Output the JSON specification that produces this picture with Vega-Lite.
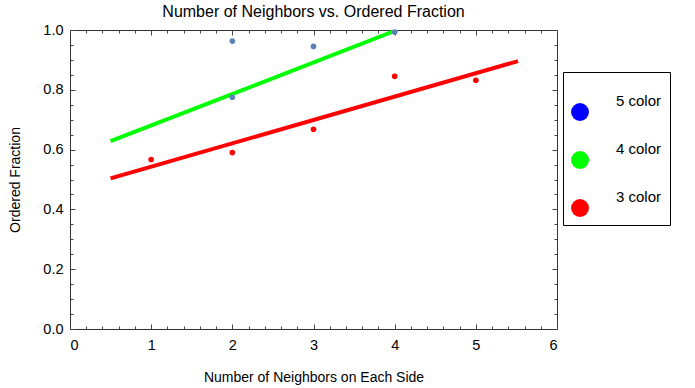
{
  "$schema": "https://vega.github.io/schema/vega-lite/v6.json",
  "width": 487,
  "height": 299,
  "autosize": "none",
  "padding": {"left": 70, "top": 30, "right": 138, "bottom": 59},
  "background": "white",
  "title": {"text": "Number of Neighbors vs. Ordered Fraction", "fontSize": 16, "fontWeight": "normal", "font": "Liberation Sans", "color": "black", "offset": 2, "anchor": "middle"},
  "config": {
    "view": {"stroke": "#333333", "strokeWidth": 1},
    "axis": {"domain": false, "grid": false, "labelFont": "Liberation Sans", "titleFont": "Liberation Sans", "labelColor": "black", "titleColor": "black", "labelFontSize": 14.5, "titleFontSize": 14, "titleFontWeight": "normal", "tickColor": "#444444", "tickWidth": 1}
  },
  "datasets": {
    "fits": [
      {"series": "4 color", "x": 0.5, "y": 0.628},
      {"series": "4 color", "x": 4.03, "y": 1.0},
      {"series": "3 color", "x": 0.5, "y": 0.504},
      {"series": "3 color", "x": 5.52, "y": 0.896}
    ],
    "points": [
      {"series": "4 color", "x": 2, "y": 0.963},
      {"series": "4 color", "x": 2, "y": 0.775},
      {"series": "4 color", "x": 3, "y": 0.945},
      {"series": "4 color", "x": 4, "y": 0.993},
      {"series": "3 color", "x": 1, "y": 0.567},
      {"series": "3 color", "x": 2, "y": 0.59},
      {"series": "3 color", "x": 3, "y": 0.668},
      {"series": "3 color", "x": 4, "y": 0.845},
      {"series": "3 color", "x": 5, "y": 0.832}
    ]
  },
  "layer": [
    {
      "data": {"name": "fits"},
      "mark": {"type": "line", "strokeWidth": 4, "clip": true},
      "encoding": {
        "x": {"field": "x", "type": "quantitative", "scale": {"domain": [0, 6], "nice": false},
          "axis": {"orient": "bottom", "values": [0, 1, 2, 3, 4, 5, 6], "ticks": false, "labelPadding": 9, "format": "d", "title": "Number of Neighbors on Each Side", "titlePadding": 19}},
        "y": {"field": "y", "type": "quantitative", "scale": {"domain": [0, 1], "nice": false},
          "axis": {"orient": "left", "values": [0, 0.2, 0.4, 0.6, 0.8, 1.0], "ticks": false, "labelPadding": 7, "format": ".1f", "title": "Ordered Fraction", "titlePadding": 20}},
        "color": {"field": "series", "type": "nominal",
          "scale": {"domain": ["5 color", "4 color", "3 color"], "range": ["#0000ff", "#00ff00", "#ff0000"]},
          "legend": {"title": "\u2003", "titleFontSize": 10, "titlePadding": 13, "orient": "none", "legendX": 493, "legendY": 42, "symbolType": "circle", "symbolSize": 320, "labelFontSize": 15, "labelFont": "Liberation Sans", "labelColor": "black", "labelOffset": 27, "rowPadding": 21, "padding": 8, "strokeColor": "black", "fillColor": "white",
            "encode": {"symbols": {"update": {"fill": {"scale": "color", "field": "value"}, "strokeWidth": {"value": 0}}}, "labels": {"update": {"dy": {"value": -11}}}, "entries": {"update": {"width": {"value": 135}}}}}
        }
      }
    },
    {
      "data": {"name": "points"},
      "mark": {"type": "circle", "size": 32, "opacity": 1},
      "encoding": {
        "x": {"field": "x", "type": "quantitative", "axis": {"orient": "bottom", "values": [0, 1, 2, 3, 4, 5, 6], "labels": false, "tickSize": -5, "title": null}},
        "y": {"field": "y", "type": "quantitative", "axis": {"orient": "left", "values": [0, 0.2, 0.4, 0.6, 0.8, 1.0], "labels": false, "tickSize": -5, "title": null}},
        "fill": {"field": "series", "type": "nominal", "scale": {"domain": ["4 color", "3 color"], "range": ["#5e81b5", "#ff0000"]}, "legend": null}
      }
    },
    {
      "data": {"name": "points"},
      "mark": {"type": "point", "opacity": 0},
      "encoding": {
        "x": {"field": "x", "type": "quantitative", "axis": {"orient": "bottom", "values": [0.2, 0.4, 0.6, 0.8, 1.2, 1.4, 1.6, 1.8, 2.2, 2.4, 2.6, 2.8, 3.2, 3.4, 3.6, 3.8, 4.2, 4.4, 4.6, 4.8, 5.2, 5.4, 5.6, 5.8], "labels": false, "tickSize": -3, "title": null}},
        "y": {"field": "y", "type": "quantitative", "axis": {"orient": "left", "values": [0.05, 0.1, 0.15, 0.25, 0.3, 0.35, 0.45, 0.5, 0.55, 0.65, 0.7, 0.75, 0.85, 0.9, 0.95], "labels": false, "tickSize": -3, "title": null}}
      }
    },
    {
      "data": {"name": "points"},
      "mark": {"type": "point", "opacity": 0},
      "encoding": {
        "x": {"field": "x", "type": "quantitative", "axis": {"orient": "top", "values": [0, 1, 2, 3, 4, 5, 6], "labels": false, "tickSize": -5, "title": null}},
        "y": {"field": "y", "type": "quantitative", "axis": {"orient": "right", "values": [0, 0.2, 0.4, 0.6, 0.8, 1.0], "labels": false, "tickSize": -5, "title": null}}
      }
    },
    {
      "data": {"name": "points"},
      "mark": {"type": "point", "opacity": 0},
      "encoding": {
        "x": {"field": "x", "type": "quantitative", "axis": {"orient": "top", "values": [0.2, 0.4, 0.6, 0.8, 1.2, 1.4, 1.6, 1.8, 2.2, 2.4, 2.6, 2.8, 3.2, 3.4, 3.6, 3.8, 4.2, 4.4, 4.6, 4.8, 5.2, 5.4, 5.6, 5.8], "labels": false, "tickSize": -3, "title": null}},
        "y": {"field": "y", "type": "quantitative", "axis": {"orient": "right", "values": [0.05, 0.1, 0.15, 0.25, 0.3, 0.35, 0.45, 0.5, 0.55, 0.65, 0.7, 0.75, 0.85, 0.9, 0.95], "labels": false, "tickSize": -3, "title": null}}
      }
    }
  ],
  "resolve": {"axis": {"x": "independent", "y": "independent"}}
}
